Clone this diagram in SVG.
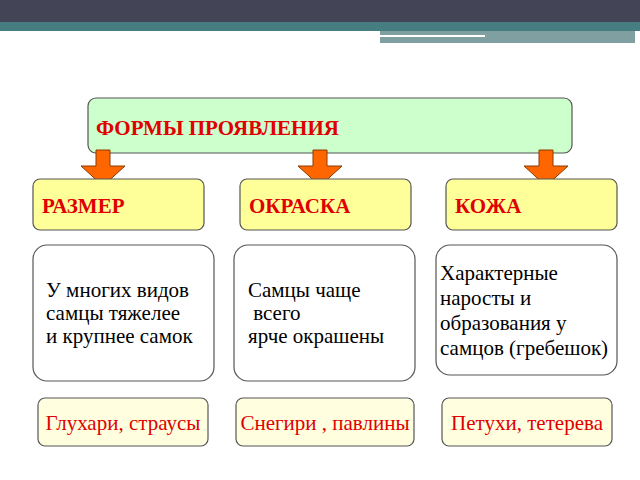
<svg xmlns="http://www.w3.org/2000/svg" width="640" height="480" viewBox="0 0 640 480">
<style>
text{font-family:"Liberation Serif","Times New Roman",serif}
.h{font-weight:bold;fill:#e00000;font-size:21px}
.b{font-size:21px;fill:#000}
.r{font-size:21px;fill:#e00000}
.box{stroke:#555;stroke-width:1.2}
.ar{fill:#ff6600;stroke:#8a3a00;stroke-width:1}
</style>
<rect x="0" y="0" width="640" height="22" fill="#434456"/>
<rect x="0" y="22" width="640" height="9" fill="#467d80"/>
<rect x="380" y="31" width="255" height="12" fill="#7f9fa0"/>
<rect x="310" y="35" width="175" height="2" fill="#fff"/>
<g id="top"><rect class="box" x="88" y="98" width="484" height="55" rx="8" fill="#ccffcc"/>
<text class="h" x="96" y="135">ФОРМЫ ПРОЯВЛЕНИЯ</text></g>
<g id="connectors">
<path class="ar" d="M96 150h14v16h15l-22 20l-22-20h15z"/>
<path class="ar" d="M313 150h14v16h15l-22 20l-22-20h15z"/>
<path class="ar" d="M539 150h14v16h15l-22 20l-22-20h15z"/>
</g>
<g id="n1"><rect class="box" x="33" y="179" width="171" height="51" rx="7" fill="#ffff99"/><text class="h" x="42" y="213">РАЗМЕР</text></g>
<g id="n2"><rect class="box" x="240" y="179" width="171" height="51" rx="7" fill="#ffff99"/><text class="h" x="249" y="213">ОКРАСКА</text></g>
<g id="n3"><rect class="box" x="446" y="179" width="171" height="51" rx="7" fill="#ffff99"/><text class="h" x="455" y="213">КОЖА</text></g>
<g id="d1"><rect class="box" x="33" y="245" width="181" height="136" rx="14" fill="#fff"/>
<text class="b" x="46" y="297">У многих видов</text><text class="b" x="46" y="320">самцы тяжелее</text><text class="b" x="46" y="343">и крупнее самок</text></g>
<g id="d2"><rect class="box" x="234" y="245" width="181" height="136" rx="14" fill="#fff"/>
<text class="b" x="248" y="297">Самцы чаще</text><text class="b" x="248" y="320" xml:space="preserve"> всего</text><text class="b" x="248" y="343">ярче окрашены</text></g>
<g id="d3"><rect class="box" x="436" y="245" width="181" height="130" rx="14" fill="#fff"/>
<text class="b" x="440" y="280">Характерные</text><text class="b" x="440" y="305">наросты и</text><text class="b" x="440" y="330">образования у</text><text class="b" x="440" y="355">самцов (гребешок)</text></g>
<g id="e1"><rect class="box" x="38" y="398" width="170" height="48" rx="7" fill="#ffffe0"/><text class="r" x="123" y="430" text-anchor="middle">Глухари, страусы</text></g>
<g id="e2"><rect class="box" x="236" y="398" width="178" height="48" rx="7" fill="#ffffe0"/><text class="r" x="325" y="430" text-anchor="middle">Снегири , павлины</text></g>
<g id="e3"><rect class="box" x="442" y="398" width="170" height="48" rx="7" fill="#ffffe0"/><text class="r" x="527" y="430" text-anchor="middle">Петухи, тетерева</text></g>
</svg>
